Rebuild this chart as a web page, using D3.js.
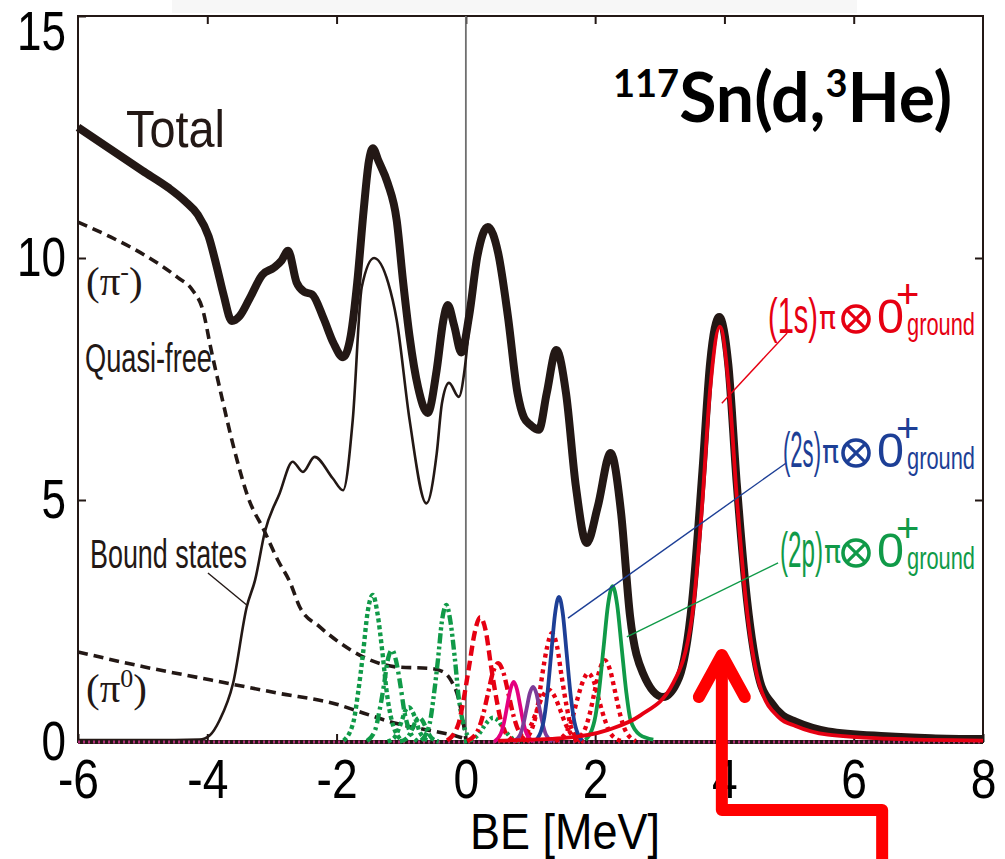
<!DOCTYPE html>
<html>
<head>
<meta charset="utf-8">
<script src="https://cdn.jsdelivr.net/npm/d3@7"></script>
<style>body{margin:0;background:#fff}</style>
</head>
<body>
<div id="chart"></div>
<script>
// axis ticks
const xTicks = [-6, -4, -2, 0, 2, 4, 6, 8];
const yTicks = [0, 5, 10, 15];

// curves: [BE (MeV), cross section]
const total = [[-6.0,12.70],[-5.5,12.25],[-5.0,11.80],[-4.6,11.45],[-4.35,11.18],[-4.15,10.90],[-3.98,10.45],[-3.85,9.80],[-3.75,9.25],[-3.62,8.70],[-3.50,8.80],[-3.35,9.15],[-3.15,9.65],[-2.97,9.80],[-2.85,9.95],[-2.75,10.15],[-2.62,9.50],[-2.50,9.30],[-2.38,9.25],[-2.20,8.75],[-2.05,8.25],[-1.90,7.95],[-1.78,8.40],[-1.68,9.50],[-1.58,11.0],[-1.50,12.0],[-1.44,12.27],[-1.35,12.0],[-1.21,11.55],[-1.07,10.78],[-0.97,9.50],[-0.87,8.37],[-0.74,7.33],[-0.59,6.80],[-0.45,7.70],[-0.35,8.70],[-0.28,9.03],[-0.18,8.60],[-0.07,8.05],[0.05,8.80],[0.18,10.05],[0.34,10.64],[0.50,10.10],[0.65,8.80],[0.80,7.20],[0.90,6.70],[1.00,6.55],[1.13,6.45],[1.25,7.20],[1.40,8.10],[1.55,7.20],[1.70,5.30],[1.87,4.11],[2.04,4.86],[2.24,5.97],[2.40,4.75],[2.54,2.60],[2.74,1.42],[3.05,0.93],[3.30,1.34],[3.50,2.90],[3.66,5.60],[3.78,7.85],[3.92,8.78],[4.06,7.80],[4.19,5.35],[4.35,2.93],[4.55,1.25],[4.72,0.82],[4.90,0.55],[5.10,0.42],[5.60,0.22],[6.50,0.12],[7.20,0.08],[8.0,0.06]];
const bound = [[-6.0,0.04],[-4.5,0.04],[-4.12,0.05],[-3.96,0.14],[-3.81,0.45],[-3.60,1.22],[-3.39,2.79],[-3.26,3.35],[-3.11,4.34],[-2.88,5.14],[-2.68,5.79],[-2.52,5.58],[-2.34,5.89],[-2.06,5.45],[-1.90,5.20],[-1.75,6.65],[-1.61,9.40],[-1.42,10.0],[-1.20,9.48],[-1.07,8.72],[-0.87,6.65],[-0.61,4.93],[-0.45,5.97],[-0.37,7.0],[-0.26,7.42],[-0.11,7.13],[-0.02,7.69],[0.05,8.60]];
const qfMinus = [[-6.0,10.74],[-5.49,10.43],[-4.97,10.06],[-4.46,9.60],[-4.23,9.34],[-4.07,8.93],[-3.94,8.10],[-3.79,7.21],[-3.58,6.03],[-3.37,5.06],[-3.11,4.34],[-2.91,3.76],[-2.72,3.30],[-2.57,2.79],[-2.26,2.38],[-1.95,2.05],[-1.59,1.76],[-1.07,1.55],[-0.56,1.52],[-0.35,1.45],[-0.22,1.25],[-0.12,0.93],[-0.04,0.40],[0.0,0.05]];
const qfZero = [[-6.0,1.86],[-4.97,1.55],[-3.94,1.28],[-2.91,1.01],[-2.0,0.78],[-1.59,0.60],[-1.07,0.38],[-0.56,0.24],[-0.14,0.12],[0.02,0.06]];

// (1s), (2s), (2p) ground-state peaks
const peak1s = [[0.5,0.03],[1.5,0.08],[2.2,0.25],[2.7,0.55],[3.2,1.20],[3.5,2.60],[3.65,4.80],[3.78,7.30],[3.93,8.58],[4.07,7.30],[4.20,4.90],[4.35,2.70],[4.55,1.15],[4.85,0.50],[5.1,0.33],[5.6,0.15],[6.5,0.07],[8.0,0.03]];
const peak2s = [[1.08,0.03],[1.20,0.41],[1.26,0.98],[1.32,1.82],[1.38,2.65],[1.44,3.00],[1.50,2.65],[1.56,1.82],[1.62,0.98],[1.68,0.41],[1.80,0.03]];
const peak2p = [[1.85,0.04],[1.99,0.44],[2.06,1.05],[2.13,1.95],[2.20,2.84],[2.27,3.22],[2.34,2.84],[2.41,1.95],[2.48,1.05],[2.55,0.44],[2.69,0.15],[2.90,0.05]];

// excited-core components
const greenA = [[-1.89,0.03],[-1.74,0.41],[-1.67,0.99],[-1.59,1.84],[-1.52,2.68],[-1.44,3.04],[-1.37,2.68],[-1.29,1.84],[-1.22,0.99],[-1.14,0.41],[-0.99,0.03]];
const greenB = [[-1.53,0.02],[-1.40,0.26],[-1.34,0.62],[-1.27,1.15],[-1.21,1.68],[-1.14,1.90],[-1.08,1.68],[-1.01,1.15],[-0.95,0.62],[-0.88,0.26],[-0.75,0.02]];
const greenC = [[-1.21,0.01],[-1.10,0.10],[-1.05,0.23],[-0.99,0.44],[-0.94,0.64],[-0.88,0.72],[-0.83,0.64],[-0.77,0.44],[-0.72,0.23],[-0.66,0.10],[-0.55,0.01]];
const greenD = [[-1.02,0.01],[-0.92,0.07],[-0.87,0.16],[-0.82,0.30],[-0.77,0.44],[-0.72,0.50],[-0.67,0.44],[-0.62,0.30],[-0.57,0.16],[-0.52,0.07],[-0.42,0.01]];
const greenE = [[-0.69,0.03],[-0.56,0.38],[-0.50,0.92],[-0.43,1.72],[-0.37,2.50],[-0.30,2.83],[-0.24,2.50],[-0.17,1.72],[-0.11,0.92],[-0.04,0.38],[0.09,0.03]];
const greenF = [[-0.03,0.01],[0.12,0.07],[0.20,0.16],[0.27,0.30],[0.35,0.44],[0.42,0.50],[0.50,0.44],[0.57,0.30],[0.65,0.16],[0.72,0.07],[0.87,0.01]];
const redA = [[-0.29,0.03],[-0.12,0.35],[-0.04,0.84],[0.05,1.56],[0.14,2.28],[0.22,2.58],[0.31,2.28],[0.39,1.56],[0.48,0.84],[0.56,0.35],[0.73,0.03]];
const redB = [[0.02,0.02],[0.18,0.22],[0.26,0.53],[0.34,0.99],[0.42,1.44],[0.50,1.63],[0.58,1.44],[0.66,0.99],[0.74,0.53],[0.82,0.22],[0.98,0.02]];
const magentaA = [[0.44,0.01],[0.54,0.17],[0.59,0.40],[0.64,0.75],[0.69,1.09],[0.74,1.24],[0.79,1.09],[0.84,0.75],[0.89,0.40],[0.94,0.17],[1.04,0.01]];
const purpleA = [[0.74,0.01],[0.84,0.15],[0.89,0.37],[0.94,0.69],[0.99,1.01],[1.04,1.14],[1.09,1.01],[1.14,0.69],[1.19,0.37],[1.24,0.15],[1.34,0.01]];
const redC = [[0.88,0.02],[1.03,0.30],[1.11,0.73],[1.18,1.37],[1.26,1.98],[1.33,2.25],[1.41,1.98],[1.48,1.37],[1.56,0.73],[1.63,0.30],[1.78,0.02]];
const redD = [[0.74,0.01],[0.92,0.15],[1.01,0.35],[1.10,0.66],[1.19,0.95],[1.28,1.08],[1.37,0.95],[1.46,0.66],[1.55,0.35],[1.64,0.15],[1.82,0.01]];
const redE = [[1.38,0.02],[1.55,0.19],[1.64,0.46],[1.72,0.86],[1.81,1.25],[1.89,1.42],[1.98,1.25],[2.06,0.86],[2.15,0.46],[2.23,0.19],[2.40,0.02]];
const redF = [[1.67,0.02],[1.83,0.23],[1.91,0.55],[1.99,1.03],[2.07,1.49],[2.15,1.69],[2.23,1.49],[2.31,1.03],[2.39,0.55],[2.47,0.23],[2.63,0.02]];

const INK = "#231815", RED = "#e60012", BLUE = "#1d3f96", GREEN = "#109a48",
      MAGENTA = "#e4007f", PURPLE = "#7d3c98";
const NARROW = "'Liberation Sans Narrow', 'Liberation Sans', sans-serif";

// squeeze a text horizontally (no condensed face installed)
function condense(sel, f) {
    sel.each(function () {
        const L = this.getComputedTextLength();
        d3.select(this).attr("textLength", L * f).attr("lengthAdjust", "spacingAndGlyphs");
    });
}

const width = 1005, height = 859;
const svg = d3.select("#chart").append("svg")
    .attr("width", width).attr("height", height)
    .style("font-family", NARROW);
svg.append("rect").attr("width", width).attr("height", height).attr("fill", "#fff");
svg.append("rect").attr("x", 172).attr("y", 0).attr("width", 685).attr("height", 13).attr("fill", "#f7f7f7");

const x = d3.scaleLinear().domain([-6, 8]).range([78, 983]);
const y = d3.scaleLinear().domain([0, 15]).range([742, 16]);
const line = d3.line().x(d => x(d[0])).y(d => y(d[1])).curve(d3.curveMonotoneX);

// frame
svg.append("rect")
    .attr("x", x(-6)).attr("y", y(15))
    .attr("width", x(8) - x(-6)).attr("height", y(0) - y(15))
    .attr("fill", "none").attr("stroke", INK).attr("stroke-width", 2);

// axes
const gx = svg.append("g").attr("transform", `translate(0,${y(0)})`)
    .call(d3.axisBottom(x).tickValues(xTicks).tickSizeInner(-8).tickSizeOuter(0)
        .tickPadding(17).tickFormat(d => String(d)));
const gy = svg.append("g").attr("transform", `translate(${x(-6)},0)`)
    .call(d3.axisLeft(y).tickValues(yTicks).tickSizeInner(-8).tickSizeOuter(0)
        .tickPadding(12).tickFormat(d => String(d)));
const gt = svg.append("g").attr("transform", `translate(0,${y(15)})`)
    .call(d3.axisTop(x).tickValues(xTicks.slice(1, -1)).tickSizeInner(-8).tickSizeOuter(0).tickFormat(""));
const gr = svg.append("g").attr("transform", `translate(${x(8)},0)`)
    .call(d3.axisRight(y).tickValues([5, 10]).tickSizeInner(-8).tickSizeOuter(0).tickFormat(""));
[gx, gy, gt, gr].forEach(g => {
    g.select(".domain").remove();
    g.selectAll("line").attr("stroke", INK).attr("stroke-width", 2);
    g.selectAll("text").attr("font-family", NARROW).attr("font-size", 55).attr("fill", "#000");
});
condense(gx.selectAll("text"), 0.84);
condense(gy.selectAll("text"), 0.8);
gy.selectAll("text").filter(d => d === 15).attr("transform", "translate(0,16)");

svg.append("text").attr("x", 565).attr("y", 849).attr("text-anchor", "middle")
    .attr("font-size", 50).attr("fill", "#000")
    .attr("textLength", 190).attr("lengthAdjust", "spacingAndGlyphs").text("BE [MeV]");

// BE = 0 line
svg.append("line").attr("x1", x(0)).attr("x2", x(0)).attr("y1", y(0)).attr("y2", y(15))
    .attr("stroke", "#6f6f6f").attr("stroke-width", 1.8);

// quasi-free + bound + total
svg.append("path").attr("d", line(qfMinus)).attr("fill", "none").attr("stroke", INK)
    .attr("stroke-width", 3.6).attr("stroke-dasharray", "10,6");
svg.append("path").attr("d", line(qfZero)).attr("fill", "none").attr("stroke", INK)
    .attr("stroke-width", 3.6).attr("stroke-dasharray", "10,6");
svg.append("path").attr("d", line(bound)).attr("fill", "none").attr("stroke", INK)
    .attr("stroke-width", 2.6);
svg.append("path").attr("d", line(total)).attr("fill", "none").attr("stroke", INK)
    .attr("stroke-width", 8).attr("stroke-linejoin", "round");

// baseline of the components
svg.append("line").attr("x1", x(-6)).attr("x2", x(8)).attr("y1", y(0)).attr("y2", y(0))
    .attr("stroke", INK).attr("stroke-width", 4);
svg.append("line").attr("x1", x(-6)).attr("x2", x(8)).attr("y1", y(0)).attr("y2", y(0))
    .attr("stroke", "#b0307a").attr("stroke-width", 3).attr("stroke-dasharray", "2,3");

const components = [
    {d: greenA, c: GREEN, dash: "4,3"},
    {d: greenB, c: GREEN, dash: "10,4,3,4"},
    {d: greenC, c: GREEN, dash: "4,3"},
    {d: greenD, c: GREEN, dash: "8,3,3,3"},
    {d: greenE, c: GREEN, dash: "10,3,3,3,3,3"},
    {d: greenF, c: GREEN, dash: "3,3"},
    {d: redA, c: RED, dash: "10,5"},
    {d: redB, c: RED, dash: "10,4,3,4"},
    {d: redD, c: RED, dash: "4,4"},
    {d: redC, c: RED, dash: "4,4"},
    {d: redE, c: RED, dash: "4,4"},
    {d: redF, c: RED, dash: "4,4"},
    {d: magentaA, c: MAGENTA, dash: null},
    {d: purpleA, c: PURPLE, dash: null},
    {d: peak2s, c: BLUE, dash: null},
    {d: peak2p, c: GREEN, dash: null},
    {d: peak1s, c: RED, dash: null}
];
svg.append("g").selectAll("path").data(components).join("path")
    .attr("d", d => line(d.d)).attr("fill", "none")
    .attr("stroke", d => d.c).attr("stroke-width", d => d.dash ? 4.4 : 3.8)
    .attr("stroke-dasharray", d => d.dash);

// leader lines (data coords)
const leaders = [
    {a: [-3.99, 3.49], b: [-3.39, 2.83], c: INK},
    {a: [4.97, 8.45], b: [3.96, 7.0], c: RED},
    {a: [4.95, 5.76], b: [1.58, 2.56], c: BLUE},
    {a: [4.83, 3.70], b: [2.49, 2.17], c: GREEN}
];
svg.append("g").selectAll("line").data(leaders).join("line")
    .attr("x1", d => x(d.a[0])).attr("y1", d => y(d.a[1]))
    .attr("x2", d => x(d.b[0])).attr("y2", d => y(d.b[1]))
    .attr("stroke", d => d.c).attr("stroke-width", 1.4);

// left labels
svg.append("text").attr("x", 126).attr("y", 147).attr("font-size", 51)
    .attr("textLength", 99).attr("lengthAdjust", "spacingAndGlyphs").attr("fill", INK).text("Total");
svg.append("text").attr("x", 85).attr("y", 372).attr("font-size", 40)
    .attr("textLength", 127).attr("lengthAdjust", "spacingAndGlyphs").attr("fill", INK).text("Quasi-free");
svg.append("text").attr("x", 90).attr("y", 568).attr("font-size", 40)
    .attr("textLength", 157).attr("lengthAdjust", "spacingAndGlyphs").attr("fill", INK).text("Bound states");

function piLabel(px, py, sup) {
    const t = svg.append("text").attr("x", px).attr("y", py)
        .attr("font-family", "'Liberation Serif', serif").attr("font-size", 41).attr("fill", INK);
    t.append("tspan").text("(π");
    t.append("tspan").attr("dy", -15).attr("font-size", 26).text(sup);
    t.append("tspan").attr("dy", 15).text(")");
}
piLabel(86, 295, "-");
piLabel(86, 702, "0");

// title
const title = svg.append("text").attr("x", 613).attr("y", 122)
    .attr("font-family", "Lato, 'Open Sans', sans-serif").attr("font-weight", "bold")
    .attr("font-size", 68).attr("fill", "#000");
title.append("tspan").attr("font-size", 38).attr("dy", -25).text("117");
title.append("tspan").attr("dy", 25).text("Sn(d,");
title.append("tspan").attr("font-size", 38).attr("dy", -25).text("3");
title.append("tspan").attr("dy", 25).text("He)");

// state labels: one text per label, parts placed with absolute tspans
function stateLabel(name, base, color, w, startX) {
    const g = svg.append("g").attr("fill", color);
    const t = g.append("text").attr("y", base);
    t.append("tspan").attr("x", startX).attr("y", base).attr("font-size", 50)
        .attr("textLength", w).attr("lengthAdjust", "spacingAndGlyphs").text(name);
    t.append("tspan").attr("x", startX + w + 1).attr("y", base - 4).attr("font-size", 32)
        .attr("font-family", "'DejaVu Sans', sans-serif")
        .attr("textLength", 17).attr("lengthAdjust", "spacingAndGlyphs").text("π");
    t.append("tspan").attr("x", 877).attr("y", base).attr("font-size", 49)
        .attr("textLength", 27).attr("lengthAdjust", "spacingAndGlyphs").text("0");
    t.append("tspan").attr("x", 896).attr("y", base - 25).attr("font-size", 40).text("+");
    t.append("tspan").attr("x", 907).attr("y", base + 2).attr("font-size", 31)
        .attr("textLength", 68).attr("lengthAdjust", "spacingAndGlyphs").text("ground");
    const cx = 856, cy = base - 14, r = 13, k = r * 0.707;
    g.append("circle").attr("cx", cx).attr("cy", cy).attr("r", r)
        .attr("fill", "none").attr("stroke", color).attr("stroke-width", 3.6);
    g.append("path").attr("d", `M${cx - k},${cy - k}L${cx + k},${cy + k}M${cx - k},${cy + k}L${cx + k},${cy - k}`)
        .attr("stroke", color).attr("stroke-width", 3.2);
}
stateLabel("(1s)", 333, RED, 50, 768);
stateLabel("(2s)", 467, BLUE, 38, 783);
stateLabel("(2p)", 567, GREEN, 43, 780);

// red arrow
const ax = x(3.96), bx = x(6.44);
svg.append("path")
    .attr("d", `M${bx},${height + 10}L${bx},810L${ax},810L${ax},656`)
    .attr("fill", "none").attr("stroke", "#ff0000").attr("stroke-width", 12).attr("stroke-linejoin", "round");
svg.append("path")
    .attr("d", `M${ax - 23},697L${ax},655L${ax + 23},697`)
    .attr("fill", "none").attr("stroke", "#ff0000").attr("stroke-width", 12)
    .attr("stroke-linejoin", "round").attr("stroke-linecap", "round");
</script>
</body>
</html>
